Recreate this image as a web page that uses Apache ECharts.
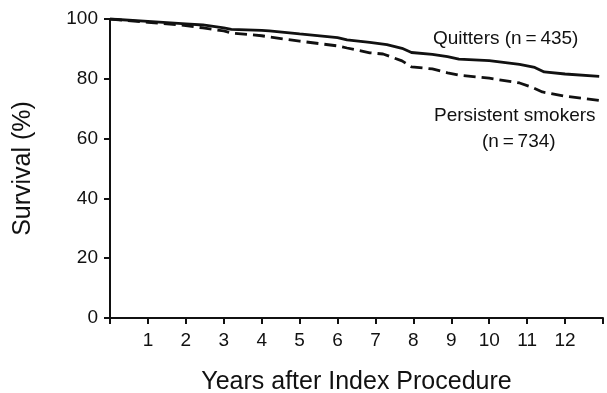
<!DOCTYPE html>
<html>
<head>
<meta charset="utf-8">
<script src="https://cdn.jsdelivr.net/npm/echarts@6.0.0/dist/echarts.min.js"></script>
<style>
  html, body { margin: 0; padding: 0; background: #fff; }
  #chart { width: 607px; height: 393px; }
</style>
</head>
<body>
<div id="chart"></div>
<script>
// Survival curves (years, % surviving)
const quitYears = [0, 1, 2, 2.45, 3, 3.2, 4, 4.2, 5, 6, 6.25, 6.85, 7.3, 7.7, 7.95, 8.5, 8.9, 9.2, 10, 10.8, 11.2, 11.45, 12, 12.9];
const quitSurv  = [100, 99.2, 98.4, 98, 97, 96.5, 96.2, 96, 95, 93.8, 93, 92.2, 91.4, 90.2, 88.8, 88.2, 87.4, 86.6, 86.1, 84.8, 83.8, 82.3, 81.6, 80.8];

const smokYears = [0, 1, 2, 2.45, 3, 3.2, 4, 4.2, 5, 6, 6.25, 6.85, 7.2, 7.7, 7.95, 8.5, 8.9, 9.2, 10, 10.8, 11.1, 11.4, 12, 12.9];
const smokSurv  = [100, 98.9, 97.8, 97, 96, 95.3, 94.4, 94, 92.6, 91, 90.3, 88.7, 88.3, 86, 84, 83.3, 82, 81.2, 80.2, 78.6, 77.3, 75.6, 74.2, 72.8];

// only 1..12 are labelled on the x axis
const xTicks = [1, 2, 3, 4, 5, 6, 7, 8, 9, 10, 11, 12];

const FONT = "Liberation Sans";
const INK = "#111";

const chart = echarts.init(document.getElementById("chart"), null, { renderer: "canvas" });

const pairs = (xs, ys) => xs.map((x, i) => [x, ys[i]]);

chart.setOption({
  animation: false,
  backgroundColor: "#fff",
  // fixed plot box, don't let v6 shrink it to fit the axis names
  grid: { left: 110, right: 4, top: 19, bottom: 75, containLabel: false, outerBoundsMode: "none" },
  xAxis: {
    type: "value",
    min: 0,
    max: 13,
    interval: 1,
    name: "Years after Index Procedure",
    nameLocation: "middle",
    nameGap: 52,
    nameTextStyle: { fontFamily: FONT, fontSize: 25, color: INK },
    axisLine: { show: true, onZero: false, lineStyle: { color: INK, width: 2 } },
    axisTick: { show: true, length: 6, lineStyle: { color: INK, width: 2 } },
    axisLabel: {
      margin: 13, fontFamily: FONT, fontSize: 19, color: INK,
      formatter: v => (xTicks.includes(v) ? String(v) : "")
    },
    splitLine: { show: false }
  },
  yAxis: {
    type: "value",
    position: "left",
    min: 0,
    max: 100,
    interval: 20,
    name: "Survival (%)",
    nameLocation: "middle",
    nameGap: 74,
    nameTextStyle: { fontFamily: FONT, fontSize: 25, color: INK },
    axisLine: { show: true, onZero: false, lineStyle: { color: INK, width: 2 } },
    axisTick: { show: true, inside: false, length: 6, lineStyle: { color: INK, width: 2 } },
    axisLabel: { margin: 12, fontFamily: FONT, fontSize: 19, color: INK },
    splitLine: { show: false }
  },
  series: [
    {
      name: "Quitters",
      type: "line",
      data: pairs(quitYears, quitSurv),
      showSymbol: false,
      lineStyle: { color: INK, width: 2.8, type: "solid" },
      silent: true
    },
    {
      name: "Persistent smokers",
      type: "line",
      data: pairs(smokYears, smokSurv),
      showSymbol: false,
      lineStyle: { color: INK, width: 2.8, type: [12, 6] },
      silent: true
    }
  ],
  graphic: [
    {
      type: "text", x: 433, y: 39,
      style: { text: "Quitters (n\u2009=\u2009435)", font: `19px "${FONT}"`, fill: INK, verticalAlign: "middle" }
    },
    {
      type: "text", x: 434, y: 116,
      style: { text: "Persistent smokers", font: `19px "${FONT}"`, fill: INK, verticalAlign: "middle" }
    },
    {
      type: "text", x: 482, y: 142,
      style: { text: "(n\u2009=\u2009734)", font: `19px "${FONT}"`, fill: INK, verticalAlign: "middle" }
    }
  ]
});
</script>
</body>
</html>
